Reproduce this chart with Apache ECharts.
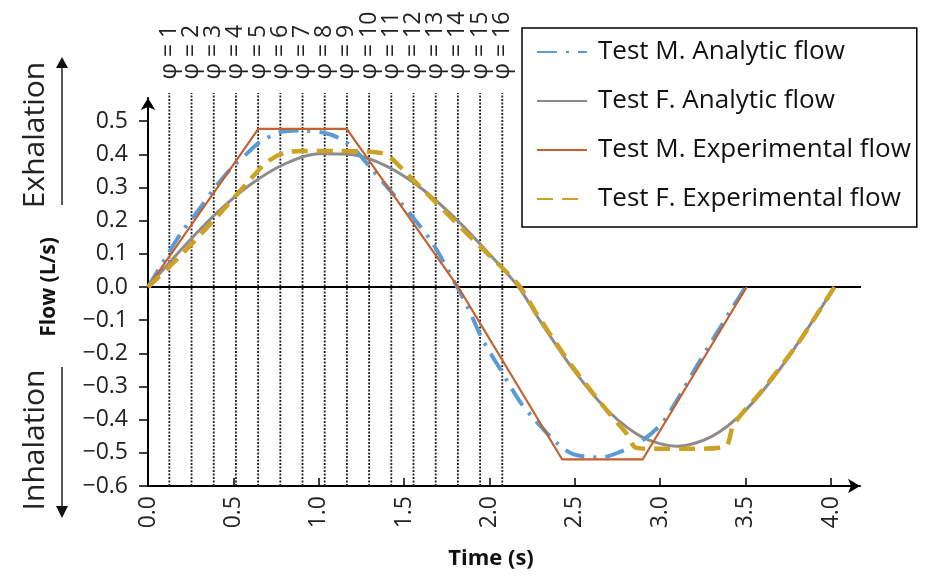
<!DOCTYPE html>
<html>
<head>
<meta charset="utf-8">
<script src="https://cdn.jsdelivr.net/npm/echarts@6/dist/echarts.min.js"></script>
<style>
  html, body { margin: 0; background: #fff; }
  #main { width: 946px; height: 585px; }
</style>
</head>
<body>
<div id="main"></div>
<script>
// [time (s), flow (L/s)]
var mAnalytic = [[0, 0], [0.1, 0.085], [0.19, 0.16], [0.3, 0.235], [0.4, 0.305], [0.5, 0.365], [0.58, 0.403], [0.65, 0.435], [0.77, 0.466], [0.9, 0.472], [1.03, 0.465], [1.12, 0.449], [1.2, 0.42], [1.3, 0.362], [1.4, 0.302], [1.55, 0.211], [1.67, 0.13], [1.8, 0.01], [1.87, -0.058], [1.96, -0.159], [2.06, -0.245], [2.18, -0.347], [2.26, -0.397], [2.39, -0.468], [2.49, -0.504], [2.65, -0.514], [2.76, -0.498], [2.88, -0.468], [3.0, -0.417], [3.08, -0.357], [3.23, -0.225], [3.41, -0.073], [3.5, 0]];
var fAnalytic = [[0, 0], [0.2, 0.116], [0.4, 0.222], [0.6, 0.309], [0.8, 0.371], [1.0, 0.402], [1.2, 0.399], [1.4, 0.364], [1.6, 0.298], [1.8, 0.207], [2.0, 0.099], [2.17, 0], [2.3, -0.105], [2.5, -0.255], [2.7, -0.376], [2.9, -0.454], [3.1, -0.48], [3.3, -0.451], [3.5, -0.371], [3.7, -0.248], [3.9, -0.097], [4.02, 0]];
var mExperimental = [[0, 0], [0.646, 0.477], [1.164, 0.477], [1.817, 0], [2.426, -0.52], [2.897, -0.52], [3.506, 0]];
var fExperimental = [[0, 0], [0.2, 0.1], [0.4, 0.21], [0.6, 0.325], [0.7, 0.378], [0.8, 0.405], [0.9, 0.41], [1.1, 0.41], [1.3, 0.408], [1.4, 0.398], [1.5, 0.35], [1.7, 0.248], [1.9, 0.145], [2.1, 0.045], [2.18, 0], [2.3, -0.1], [2.5, -0.25], [2.7, -0.38], [2.8, -0.44], [2.86, -0.485], [3.0, -0.488], [3.2, -0.488], [3.38, -0.482], [3.43, -0.415], [3.6, -0.31], [3.8, -0.175], [3.9, -0.097], [4.02, 0]];

// phase boundaries (s) and their labels
var phiTimes = [0.125, 0.255, 0.385, 0.515, 0.645, 0.775, 0.905, 1.035, 1.165, 1.295, 1.425, 1.555, 1.685, 1.815, 1.945, 2.075];
var phiLabels = ['φ = 1', 'φ = 2', 'φ = 3', 'φ = 4', 'φ = 5', 'φ = 6', 'φ = 7', 'φ = 8', 'φ = 9', 'φ = 10', 'φ = 11', 'φ = 12', 'φ = 13', 'φ = 14', 'φ = 15', 'φ = 16'];

var xTicks = [0, 0.5, 1.0, 1.5, 2.0, 2.5, 3.0, 3.5, 4.0];
var yTicks = [-0.6, -0.5, -0.4, -0.3, -0.2, -0.1, 0, 0.1, 0.2, 0.3, 0.4, 0.5];
var zeroLine = [[-0.06, 0], [4.6, 0]];
var phiBottom = -0.6, phiTop = 0.585;

var FONT = 'Open Sans';
var chart = echarts.init(document.getElementById('main'));

var series = [];
// dotted phase lines
phiTimes.forEach(function (t, i) {
  series.push({
    type: 'line',
    silent: true,
    clip: false,
    symbol: 'circle',
    symbolSize: 1,
    itemStyle: { color: 'rgba(0,0,0,0)' },
    lineStyle: { color: '#222', width: 1.8, type: [2, 1.5] },
    data: [
      [t, phiBottom],
      {
        value: [t, phiTop],
        label: {
          show: true,
          formatter: phiLabels[i],
          position: 'top',
          distance: 13,
          rotate: 90,
          align: 'left',
          verticalAlign: 'middle',
          fontSize: 23,
          fontFamily: FONT,
          color: '#222'
        }
      }
    ],
    z: 1
  });
});

series.push({
  type: 'line', silent: true, clip: false, symbol: 'none',
  lineStyle: { color: '#000', width: 2 },
  data: zeroLine, z: 2
});

series.push({
  name: 'Test F. Analytic flow', type: 'line', symbol: 'none', smooth: 0.3,
  lineStyle: { color: '#8C8C8C', width: 3 }, itemStyle: { color: '#8C8C8C' },
  data: fAnalytic, z: 3
});
series.push({
  name: 'Test M. Analytic flow', type: 'line', symbol: 'none', smooth: 0.3,
  lineStyle: { color: '#5B9BD5', width: 4, type: [20, 9, 3, 9] }, itemStyle: { color: '#5B9BD5' },
  data: mAnalytic, z: 4
});
series.push({
  name: 'Test M. Experimental flow', type: 'line', symbol: 'none',
  lineStyle: { color: '#C5602F', width: 2.2 }, itemStyle: { color: '#C5602F' },
  data: mExperimental, z: 5
});
series.push({
  name: 'Test F. Experimental flow', type: 'line', symbol: 'none', smooth: 0.3,
  lineStyle: { color: '#CDA123', width: 4.5, type: [16, 9] }, itemStyle: { color: '#CDA123' },
  data: fExperimental, z: 6
});

var option = {
  animation: false,
  textStyle: { fontFamily: FONT },
  grid: { left: 148, right: 86, top: 98, bottom: 99 },
  legend: {
    data: ['Test M. Analytic flow', 'Test F. Analytic flow', 'Test M. Experimental flow', 'Test F. Experimental flow'],
    orient: 'vertical',
    left: 522,
    top: 28,
    itemWidth: 50,
    itemHeight: 14,
    itemGap: 23,
    padding: [11, 6, 15, 14],
    borderColor: '#000',
    borderWidth: 1.5,
    itemStyle: { opacity: 0 },
    textStyle: { fontSize: 26, color: '#111', fontFamily: FONT, padding: [0, 0, 0, 6] }
  },
  xAxis: {
    type: 'value', min: 0, max: 4.17,
    name: 'Time (s)', nameLocation: 'middle', nameGap: 62,
    nameTextStyle: { fontSize: 22, fontWeight: 'bold', color: '#111', fontFamily: FONT, padding: [0, 26, 0, 0] },
    splitLine: { show: false },
    axisLine: { onZero: false, symbol: ['none', 'arrow'], symbolSize: [11, 12], lineStyle: { color: '#000', width: 2 } },
    axisTick: { customValues: xTicks, inside: true, length: 8, lineStyle: { color: '#000', width: 1.5 } },
    axisLabel: {
      customValues: xTicks, rotate: 90, margin: 10, fontSize: 23, color: '#222', fontFamily: FONT,
      formatter: function (v) { return v.toFixed(1); }
    }
  },
  yAxis: {
    type: 'value', min: -0.6, max: 0.57,
    name: 'Flow (L/s)', nameLocation: 'middle', nameGap: 88,
    nameTextStyle: { fontSize: 21, fontWeight: 'bold', color: '#111', fontFamily: FONT, padding: [0, 0, 0, 10] },
    splitLine: { show: false },
    axisLine: { onZero: false, symbol: ['none', 'arrow'], symbolSize: [11, 12], lineStyle: { color: '#000', width: 2 } },
    axisTick: { customValues: yTicks, inside: false, length: 9, lineStyle: { color: '#000', width: 1.5 } },
    axisLabel: {
      customValues: yTicks, margin: 20, fontSize: 23, color: '#222', fontFamily: FONT,
      formatter: function (v) { return v < 0 ? '\u2212' + Math.abs(v).toFixed(1) : v.toFixed(1); }
    }
  },
  graphic: [
    { type: 'text', x: 35, y: 135, rotation: Math.PI / 2,
      style: { text: 'Exhalation', fontSize: 30, fontFamily: FONT, fill: '#222', align: 'center', verticalAlign: 'middle' } },
    { type: 'line', shape: { x1: 62, y1: 205, x2: 62, y2: 66 }, style: { stroke: '#222', lineWidth: 1.5 } },
    { type: 'polygon', shape: { points: [[56, 68], [68, 68], [62, 57]] }, style: { fill: '#111' } },
    { type: 'text', x: 35, y: 440, rotation: Math.PI / 2,
      style: { text: 'Inhalation', fontSize: 30, fontFamily: FONT, fill: '#222', align: 'center', verticalAlign: 'middle' } },
    { type: 'line', shape: { x1: 62, y1: 367, x2: 62, y2: 508 }, style: { stroke: '#222', lineWidth: 1.5 } },
    { type: 'polygon', shape: { points: [[56, 506], [68, 506], [62, 518]] }, style: { fill: '#111' } }
  ],
  series: series
};

chart.setOption(option);
</script>
</body>
</html>
